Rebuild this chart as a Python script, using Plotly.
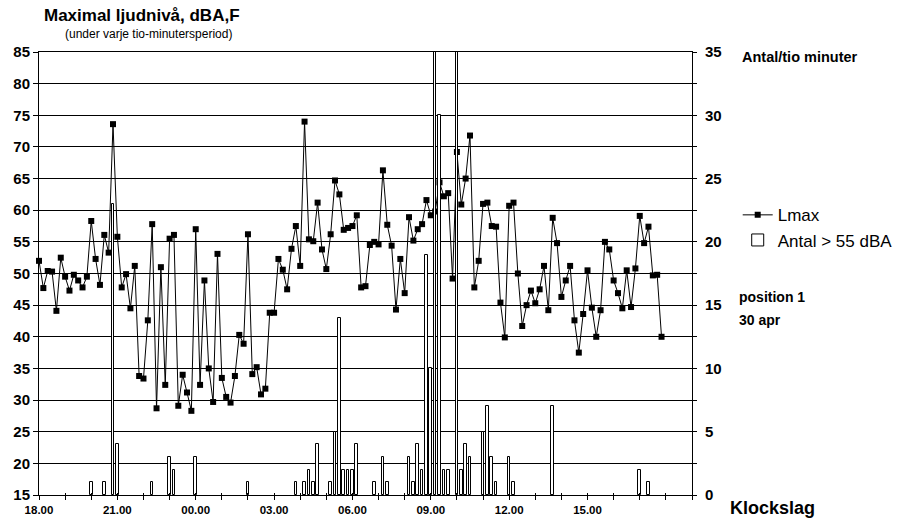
import plotly.graph_objects as go

# ---------------- data ----------------
# one value per ten-minute period, starting 18.00
slot = list(range(144))

lmax = [
    52.0, 47.7, 50.4, 50.3, 44.1, 52.5, 49.5, 47.3, 49.8, 48.9, 47.8, 49.5,
    58.3, 52.3, 48.2, 56.1, 53.3, 73.6, 55.8, 47.8, 49.9, 44.5, 51.2, 33.8,
    33.4, 42.6, 57.8, 28.7, 51.0, 32.4, 55.5, 56.1, 29.1, 34.0, 31.2, 28.3,
    57.0, 32.4, 48.9, 35.0, 29.7, 53.1, 33.5, 30.5, 29.6, 33.8, 40.3, 38.9,
    56.2, 34.1, 35.2, 30.9, 31.8, 43.8, 43.8, 52.3, 50.6, 47.5, 53.9, 57.5,
    51.2, 74.0, 55.4, 55.1, 61.2, 53.8, 50.7, 56.2, 64.7, 62.5, 56.9, 57.2,
    57.5, 59.2, 47.8, 48.0, 54.5, 55.0, 54.6, 66.3, 57.7, 54.4, 44.3, 52.3,
    46.9, 58.9, 55.2, 57.0, 57.8, 61.6, 59.2, 59.8, 64.4, 62.2, 62.7, 49.2,
    69.2, 60.9, 65.0, 71.8, 47.8, 52.0, 61.0, 61.2, 57.5, 57.4, 45.4, 39.9,
    60.7, 61.2, 50.0, 41.7, 45.0, 47.3, 45.3, 47.5, 51.2, 44.2, 58.8, 54.8,
    46.3, 48.9, 51.2, 42.6, 37.5, 43.6, 50.5, 44.6, 40.0, 44.2, 55.0, 53.8,
    48.9, 46.9, 44.5, 50.5, 44.7, 50.8, 59.1, 54.8, 57.4, 49.7, 49.8, 40.0,
]

antal = [
    0, 0, 0, 0, 0, 0, 0, 0, 0, 0, 0, 0,
    1, 0, 0, 1, 0, 23, 4, 0, 0, 0, 0, 0,
    0, 0, 1, 0, 0, 0, 3, 2, 0, 0, 0, 0,
    3, 0, 0, 0, 0, 0, 0, 0, 0, 0, 0, 0,
    1, 0, 0, 0, 0, 0, 0, 0, 0, 0, 0, 1,
    0, 1, 2, 1, 4, 0, 0, 1, 5, 14, 2, 2,
    2, 4, 0, 0, 0, 1, 0, 3, 1, 0, 0, 0,
    0, 3, 1, 4, 2, 19, 10, 38, 30, 2, 2, 0,
    38, 2, 4, 3, 0, 0, 5, 7, 3, 1, 0, 0,
    3, 1, 0, 0, 0, 0, 0, 0, 0, 0, 7, 0,
    0, 0, 0, 0, 0, 0, 0, 0, 0, 0, 0, 0,
    0, 0, 0, 0, 0, 0, 2, 0, 1, 0, 0, 0,
]

hour_ticks = list(range(0, 151, 6))
label_pos = [0, 18, 36, 54, 72, 90, 108, 126]
label_txt = ["18.00", "21.00", "00.00", "03.00", "06.00", "09.00", "12.00", "15.00"]

# ---------------- figure ----------------
F = "Liberation Sans, Arial, sans-serif"
lab = dict(zip(label_pos, label_txt))
hour_text = [lab.get(t, "") for t in hour_ticks]
# periods with no events get no bar drawn (avoids zero-height outlines)
antal_plot = [v if v else None for v in antal]

fig = go.Figure()
fig.add_trace(go.Scatter(
    x=slot, y=lmax, mode="lines+markers", name="Lmax",
    line=dict(color="black", width=1),
    marker=dict(symbol="square", size=6, color="black"),
    cliponaxis=False,
))
fig.add_trace(go.Bar(
    x=slot, y=antal_plot, name="Antal > 55 dBA", xaxis="x2", yaxis="y2",
    width=0.6,
    marker=dict(color="white", line=dict(color="black", width=1)),
))

fig.update_layout(
    width=898, height=519,
    margin=dict(l=39, r=206, t=52, b=24, autoexpand=False),
    paper_bgcolor="white", plot_bgcolor="white",
    font=dict(family=F, color="black"),
    showlegend=True,
    bargap=0,
    xaxis=dict(
        range=[0, 150], tickvals=hour_ticks, ticktext=hour_text,
        ticks="outside", ticklen=4, tickcolor="black", tickwidth=1,
        showline=True, linecolor="black", linewidth=1, mirror=True,
        showgrid=False, zeroline=False, automargin=False,
        tickfont=dict(family=F, size=11.5, color="black", weight="bold"),
    ),
    xaxis2=dict(
        overlaying="x", anchor="y2", range=[0, 150], tickvals=hour_ticks,
        ticks="inside", ticklen=2, tickcolor="black", showticklabels=False,
        showline=False, showgrid=False, zeroline=False, automargin=False,
    ),
    yaxis=dict(
        range=[15, 85], tick0=15, dtick=5,
        ticks="outside", ticklen=5, tickcolor="black",
        showline=True, linecolor="black", linewidth=1,
        showgrid=True, gridcolor="black", gridwidth=1, zeroline=False,
        automargin=False,
        tickfont=dict(family=F, size=15, color="black", weight="bold"),
    ),
    yaxis2=dict(
        overlaying="y", anchor="x2", side="right",
        range=[0, 35], tick0=0, dtick=5,
        ticks="outside", ticklen=4, tickcolor="black",
        minor=dict(dtick=2.5, ticks="outside", ticklen=4, tickcolor="black"),
        showline=True, linecolor="black", linewidth=1,
        showgrid=False, zeroline=False, ticklabelstandoff=5, automargin=False,
        tickfont=dict(family=F, size=15, color="black", weight="bold"),
    ),
    legend=dict(
        x=1.070, y=0.672, xanchor="left", yanchor="top",
        font=dict(family=F, size=17, color="black"),
        bgcolor="rgba(0,0,0,0)", borderwidth=0, tracegroupgap=0,
    ),
)

ann = [
    dict(text="<b>Maximal ljudnivå, dBA,F</b>", x=0.004, y=1.0835, size=17),
    dict(text="(under varje tio-minutersperiod)", x=0.037, y=1.0406, size=12),
    dict(text="<b>Antal/tio minuter</b>", x=1.0735, y=0.9887, size=14.5),
    dict(text="<b>position 1</b>", x=1.069, y=0.447, size=14),
    dict(text="<b>30 apr</b>", x=1.069, y=0.395, size=14),
    dict(text="<b>Klockslag</b>", x=1.0551, y=-0.0293, size=18),
]
for a in ann:
    fig.add_annotation(
        text=a["text"], x=a["x"], y=a["y"], xref="paper", yref="paper",
        xanchor="left", yanchor="middle", showarrow=False,
        font=dict(family=F, size=a["size"], color="black"),
    )

fig.write_html("out.html")
